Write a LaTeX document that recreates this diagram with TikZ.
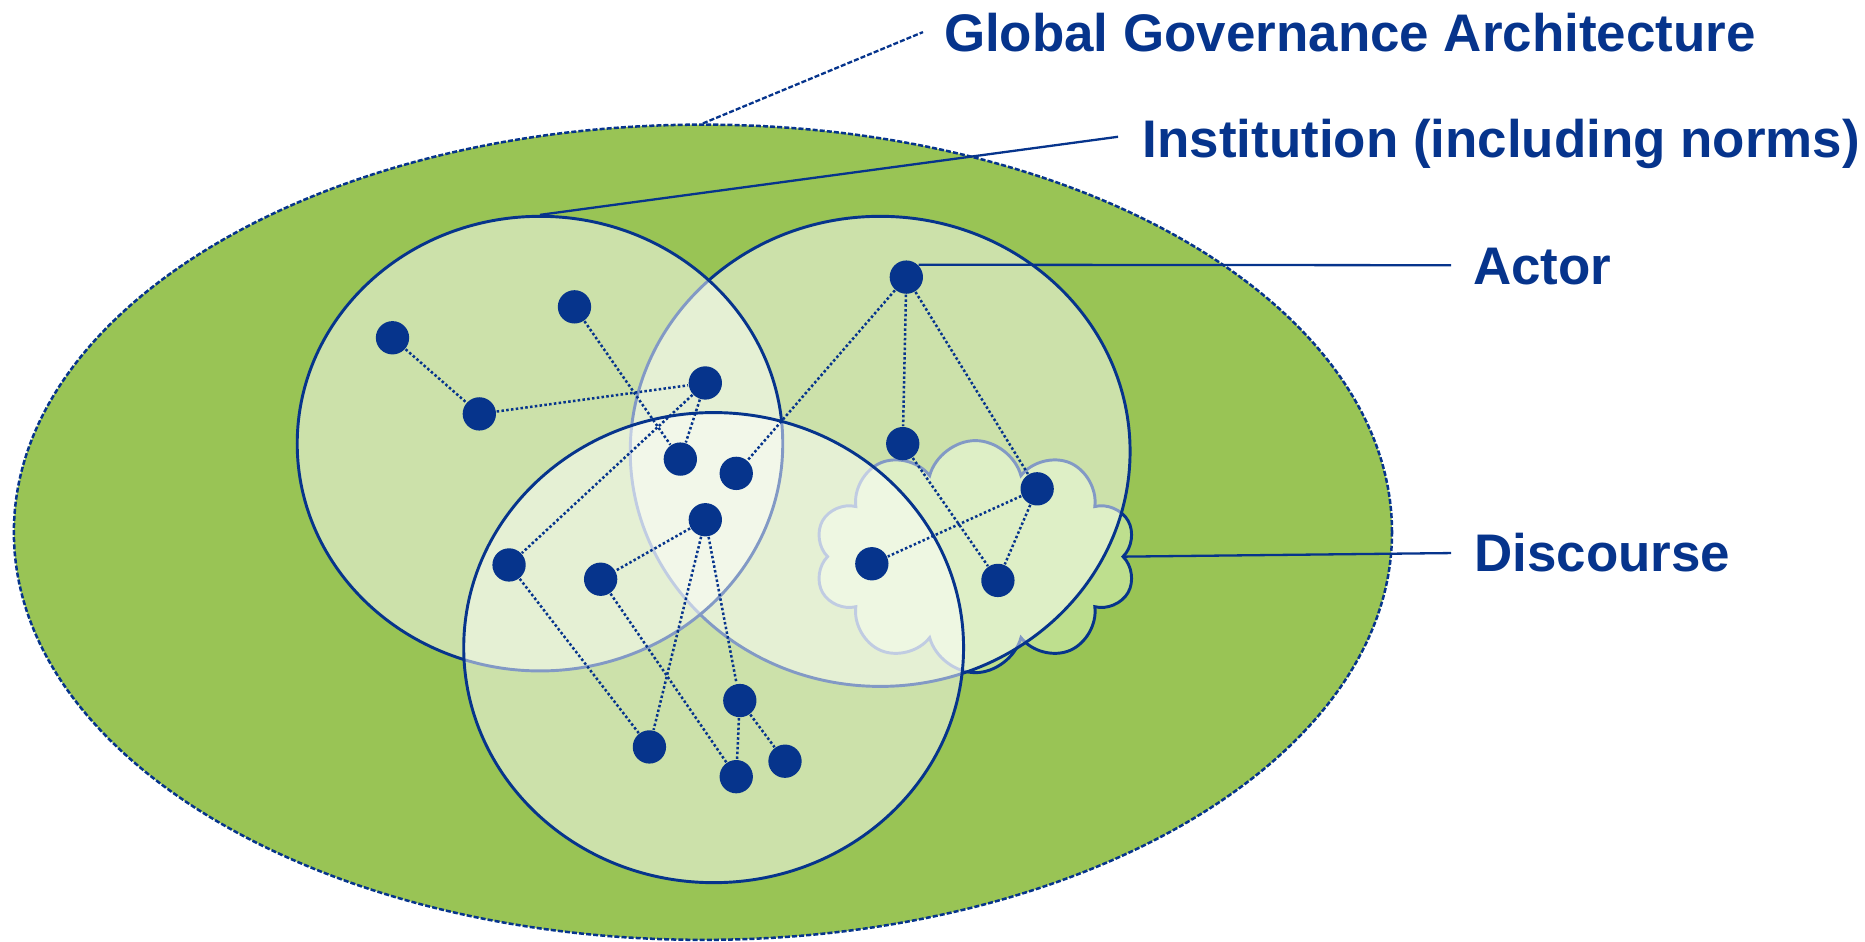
\documentclass[tikz,border=0pt]{standalone}
\usepackage{fontspec}
\setmainfont{Liberation Sans}
\usetikzlibrary{shapes.geometric,shapes.symbols}
\definecolor{gggblue}{RGB}{6,52,140}
\definecolor{gggreen}{RGB}{153,196,85}
\definecolor{cloudgreen}{RGB}{190,223,142}

\begin{document}
\begin{tikzpicture}[x=0.01cm,y=-0.01cm]
\tikzstyle{arena}=[ellipse,draw=gggblue,inner sep=0,line width=0.7pt,fill=white,fill opacity=0.5]
\tikzstyle{actor}=[circle,fill=gggblue,inner sep=0,minimum size=0.28cm]
\tikzstyle{tie}=[gggblue,line width=0.6pt,dash pattern=on 0.6pt off 0.55pt]
\tikzstyle{lead}=[gggblue,line width=0.55pt]
\tikzstyle{lbl}=[anchor=base west,inner sep=0,text=gggblue,font=\fontsize{12.65}{15}\selectfont\bfseries]
%\tikzstyle{lbl}=[anchor=west,font=\large\bfseries]

\useasboundingbox (0,0) rectangle (1568,792);

\node[ellipse,draw=gggblue,fill=gggreen,line width=0.6pt,dash pattern=on 1.2pt off 0.5pt,inner sep=0,minimum width=11.58cm,minimum height=6.85cm] (gga) at (591,447.5) {};
\node[cloud,cloud puffs=10,cloud puff arc=150,draw=gggblue,fill=cloudgreen,line width=0.7pt,inner sep=0,minimum width=2.7cm,minimum height=1.95cm] (discourse) at (820,468) {};

% institutions, right one first
\node[arena,minimum width=4.2cm,minimum height=3.95cm] (inst2) at (740,379.5) {};
\node[arena,minimum width=4.08cm,minimum height=3.82cm] (inst1) at (454,373) {};
\node[arena,minimum width=4.2cm,minimum height=3.95cm] (inst3) at (600,544.5) {};

\coordinate (ggaend) at (776,27);
\coordinate (instend) at (940,115);
\coordinate (actorend) at (1220,223);
\coordinate (discend) at (1220,465);
\draw[lead,dash pattern=on 1.2pt off 0.5pt] (gga.north) -- (ggaend);
\draw[lead] (inst1.north) -- (instend);
\draw[lead] (discourse.east) -- (discend);

\node[lbl] (ggalabel) at (793,43.5) {Global Governance Architecture};
\node[lbl] (instlabel) at (960,132.6) {Institution (including norms)};
\node[lbl] (actorlabel) at (1238,239.6) {Actor};
\node[lbl] (disclabel) at (1239,480.6) {Discourse};

% actors
\node[actor] (a1) at (762,233) {};
\node[actor] (a2) at (330,284) {};
\node[actor] (a3) at (483,258) {};
\node[actor] (a4) at (403,348) {};
\node[actor] (a5) at (593,322) {};
\node[actor] (a6) at (572,386) {};
\node[actor] (a7) at (619,398) {};
\node[actor] (a8) at (759,373) {};
\node[actor] (a9) at (872,411) {};
\node[actor] (a10) at (593,437) {};
\node[actor] (a11) at (428,475) {};
\node[actor] (a12) at (505,487) {};
\node[actor] (a13) at (733,474) {};
\node[actor] (a14) at (839,488) {};
\node[actor] (a15) at (622,589) {};
\node[actor] (a16) at (546,628) {};
\node[actor] (a17) at (619,653) {};
\node[actor] (a18) at (660,640) {};

\draw[lead] (a1.north east) -- (actorend);

% ties between actors
\draw[tie] (a2) -- (a4);
\draw[tie] (a4) -- (a5);
\draw[tie] (a3) -- (a6);
\draw[tie] (a5) -- (a6);
\draw[tie] (a5) -- (a11);
\draw[tie] (a1) -- (a7);
\draw[tie] (a1) -- (a8);
\draw[tie] (a1) -- (a9);
\draw[tie] (a8) -- (a14);
\draw[tie] (a9) -- (a13);
\draw[tie] (a9) -- (a14);
\draw[tie] (a10) -- (a12);
\draw[tie] (a10) -- (a16);
\draw[tie] (a10) -- (a15);
\draw[tie] (a11) -- (a16);
\draw[tie] (a12) -- (a17);
\draw[tie] (a15) -- (a17);
\draw[tie] (a15) -- (a18);
\end{tikzpicture}
\end{document}
